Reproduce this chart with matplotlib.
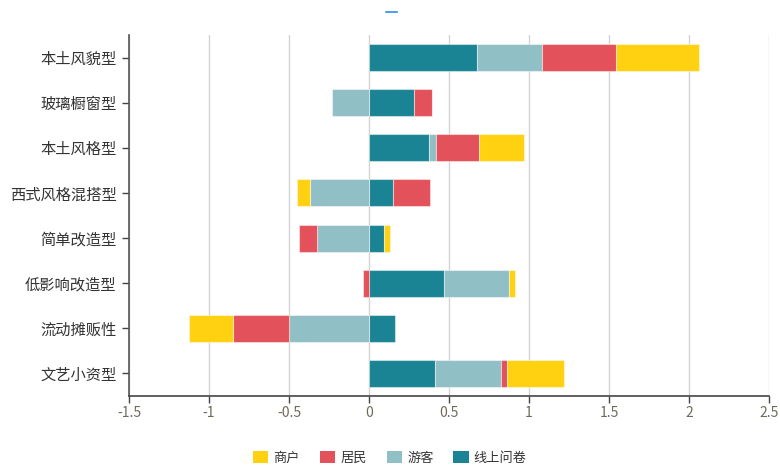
import numpy as np
import matplotlib
matplotlib.use('Agg')
import matplotlib.pyplot as plt
from matplotlib.patches import Patch
from matplotlib.lines import Line2D

plt.rcParams['font.family'] = ['Noto Sans CJK SC', 'DejaVu Sans']

# categories, listed top to bottom
categories = ['本土风貌型', '玻璃橱窗型', '本土风格型', '西式风格混搭型',
              '简单改造型', '低影响改造型', '流动摊贩性', '文艺小资型']

# each series, stacked outward from zero in this order
online = [0.677, 0.279, 0.375, 0.150, 0.092, 0.467, 0.165, 0.415]
tourist = [0.406, -0.231, 0.046, -0.371, -0.323, 0.408, -0.500, 0.408]
resident = [0.463, 0.115, 0.269, 0.231, -0.113, -0.040, -0.350, 0.038]
merchant = [0.517, 0.000, 0.277, -0.077, 0.038, 0.038, -0.277, 0.356]

series_names = ['线上问卷', '游客', '居民', '商户']
series_values = [online, tourist, resident, merchant]
series_colors = ['#1a8494', '#91bfc6', '#e3515a', '#ffd111']

legend_order = ['商户', '居民', '游客', '线上问卷']
x_ticks = [-1.5, -1, -0.5, 0, 0.5, 1, 1.5, 2, 2.5]


def main():
    fig = plt.figure(figsize=(7.8, 4.68), dpi=100)
    ax = fig.add_axes([129 / 780, 72 / 468, 640 / 780, 361 / 468])

    y = np.arange(len(categories))[::-1]
    pos_base = np.zeros(len(categories))
    neg_base = np.zeros(len(categories))

    for name, vals, color in zip(series_names, series_values, series_colors):
        vals = np.array(vals)
        left = np.where(vals >= 0, pos_base, neg_base)
        ax.barh(y, vals, left=left, height=0.6, color=color,
                edgecolor=(1, 1, 1, 0.45), linewidth=0.8, zorder=3)
        pos_base += np.clip(vals, 0, None)
        neg_base += np.clip(vals, None, 0)

    ax.set_xlim(-1.5, 2.5)
    ax.set_ylim(-0.5, len(categories) - 0.5)
    ax.set_xticks(x_ticks)
    ax.set_xticklabels(['%g' % t for t in x_ticks])
    ax.set_yticks(y)
    ax.set_yticklabels(categories)

    ax.grid(axis='x', color='#d4d4d4', linewidth=1, zorder=0)
    for side in ['top', 'right']:
        ax.spines[side].set_visible(False)
    ax.spines['left'].set_color('#555555')
    ax.spines['bottom'].set_color('#444444')
    ax.spines['left'].set_linewidth(1.2)
    ax.spines['bottom'].set_linewidth(1.2)

    ax.tick_params(axis='y', length=5, width=1, color='#444444', pad=4,
                   labelsize=11, labelcolor='#333333')
    ax.tick_params(axis='x', length=5, width=1, color='#444444', pad=2.5,
                   labelsize=10, labelcolor='#6e6a5a')

    # small blue title marker
    fig.add_artist(Line2D([386 / 780, 397 / 780], [1 - 12 / 468, 1 - 12 / 468],
                          color='#2e8ee8', linewidth=1.2))

    handles = [Patch(facecolor=series_colors[series_names.index(n)], edgecolor='none')
               for n in legend_order]
    fig.legend(handles, legend_order, loc='center', bbox_to_anchor=(0.5, 1 - 458 / 468),
               ncol=4, frameon=False, fontsize=9.5, handlelength=1.15, handleheight=1.05,
               handletextpad=0.4, columnspacing=1.5, labelcolor='#333333')

    fig.savefig('out.png', dpi=100)


if __name__ == '__main__':
    main()
